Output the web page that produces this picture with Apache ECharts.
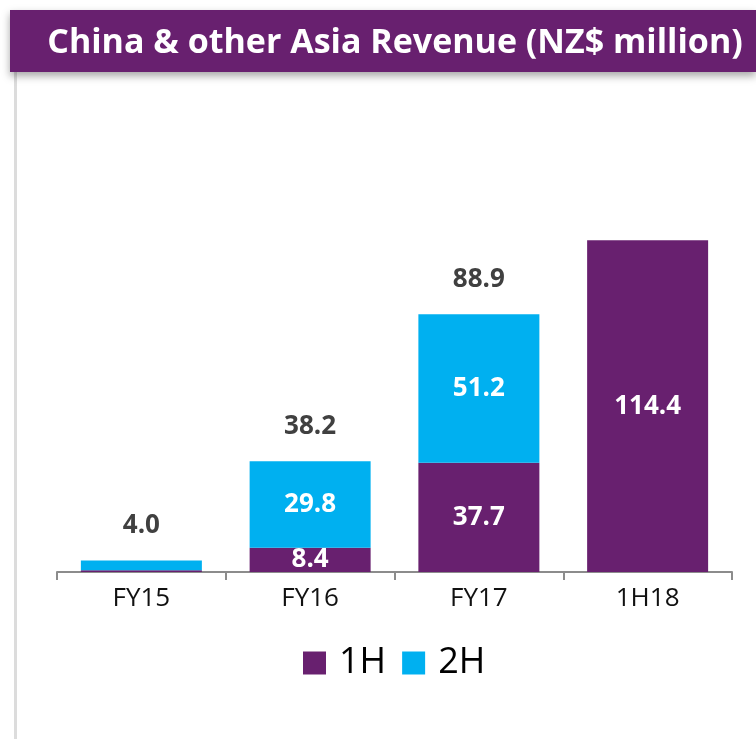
<!DOCTYPE html>
<html><head><meta charset="utf-8">
<script src="https://cdn.jsdelivr.net/npm/echarts@6/dist/echarts.min.js"></script>
<style>html,body{margin:0;padding:0;background:#fff}#c{width:756px;height:739px}</style>
</head><body><div id="c"></div>
<script>
var categories = ['FY15', 'FY16', 'FY17', '1H18'];
var firstHalf = [0.6, 8.4, 37.7, 114.4];
var secondHalf = [3.4, 29.8, 51.2, null];
var totals = [4.0, 38.2, 88.9, null];
var titleText = 'China & other Asia Revenue (NZ$ million)';

var PURPLE = '#68206f', CYAN = '#00b0f0';
var chart = echarts.init(document.getElementById('c'));
var inLabel = {
  show: true, position: 'inside', color: '#fff', fontWeight: 'bold', fontSize: 26,
  fontFamily: 'Open Sans',
  formatter: function (p) { return p.value >= 5 ? p.value.toFixed(1) : ''; }
};
chart.setOption({
  animation: false,
  graphic: [
    { type: 'rect', left: 14, top: 72, shape: { width: 3, height: 667 }, style: { fill: '#dcdcdc' } },
    { type: 'rect', left: 10, top: 10, shape: { width: 746, height: 62 },
      style: { fill: PURPLE, shadowBlur: 8, shadowOffsetY: 4, shadowColor: 'rgba(0,0,0,0.35)' } },
    { type: 'text', x: 395, y: 43, style: { text: titleText, fill: '#fff', align: 'center', verticalAlign: 'middle',
      font: 'bold 34px "Open Sans"' } }
  ],
  grid: { left: 57, right: 24, top: 224, bottom: 167 },
  legend: {
    data: ['1H', '2H'], bottom: 53, left: 298, itemWidth: 23, itemHeight: 23, itemGap: 16,
    icon: 'rect', textStyle: { fontSize: 36, color: '#000', fontFamily: 'Open Sans', padding: [0, 0, 0, 8] }
  },
  xAxis: {
    type: 'category', data: categories,
    axisLine: { lineStyle: { color: '#8c8c8c', width: 2 } },
    axisTick: { show: true, length: 8, lineStyle: { color: '#8c8c8c', width: 2 } },
    axisLabel: { fontSize: 26, color: '#111', margin: 14, fontFamily: 'Open Sans' }
  },
  yAxis: { type: 'value', min: 0, max: 120, show: false, splitLine: { show: false } },
  series: [
    { name: '1H', type: 'bar', stack: 's', data: firstHalf, barWidth: 121,
      itemStyle: { color: PURPLE }, label: inLabel },
    { name: '2H', type: 'bar', stack: 's', data: secondHalf, barWidth: 121,
      itemStyle: { color: CYAN }, label: inLabel },
    { name: 'Total', type: 'bar', stack: 's', barWidth: 121,
      data: totals.map(function (t) { return t == null ? null : 0; }),
      itemStyle: { color: 'transparent' },
      label: { show: true, position: 'top', distance: 22, color: '#404040', fontWeight: 'bold',
        fontSize: 26, fontFamily: 'Open Sans',
        formatter: function (p) { var t = totals[p.dataIndex]; return t == null ? '' : t.toFixed(1); } } }
  ]
});
</script></body></html>
